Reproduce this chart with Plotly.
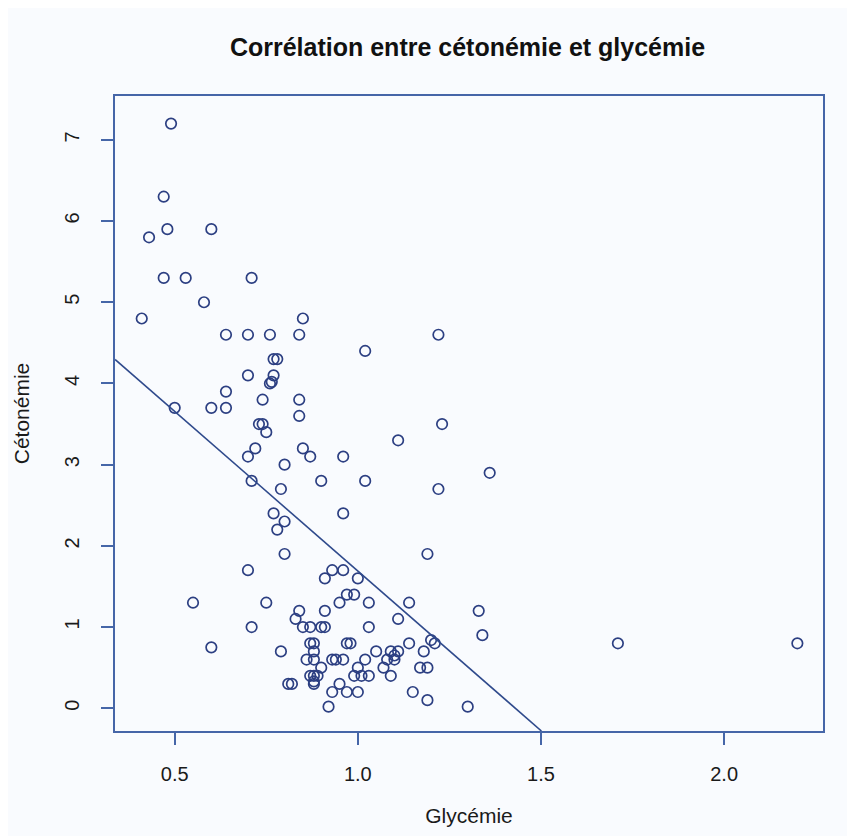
import plotly.graph_objects as go

# Glycémie (x) and Cétonémie (y) values
glycemie = [
    0.49, 0.47, 0.48, 0.60, 0.43, 0.47, 0.53, 0.71, 0.58, 0.41, 0.85,
    0.64, 0.70, 0.76, 0.84, 1.22, 1.02, 0.77, 0.78, 0.70, 0.77, 0.76, 0.765,
    0.64, 0.74, 0.84, 0.50, 0.60, 0.64, 0.84, 0.73, 0.74, 1.23, 0.75, 1.11,
    0.72, 0.85, 0.70, 0.87, 0.96, 0.80, 1.36, 0.71, 0.90, 1.02, 0.79, 1.22,
    0.77, 0.96, 0.80, 0.78, 0.80, 1.19,
    0.70, 0.93, 0.96, 0.91, 1.00, 0.97, 0.99, 0.55, 0.75, 0.95, 1.03, 1.14,
    0.84, 0.91, 1.33, 0.83, 1.11, 0.71, 0.85, 0.87, 0.90, 0.91, 1.03, 1.34,
    1.20, 1.21, 1.14, 0.87, 0.88, 0.97, 0.98, 1.71, 2.20, 0.60, 0.79, 0.88,
    1.05, 1.09, 1.11, 1.18, 0.86, 0.88, 0.93, 0.94, 0.96, 1.02, 1.08, 1.10,
    1.10, 0.90, 1.00, 1.07, 1.17, 1.19, 0.87, 0.88, 0.89, 0.99, 1.01, 1.03,
    1.09, 0.81, 0.82, 0.88, 0.88, 0.95, 0.93, 0.97, 1.00, 1.15, 1.19, 0.92,
    1.30,
]
cetonemie = [
    7.2, 6.3, 5.9, 5.9, 5.8, 5.3, 5.3, 5.3, 5.0, 4.8, 4.8,
    4.6, 4.6, 4.6, 4.6, 4.6, 4.4, 4.3, 4.3, 4.1, 4.1, 4.0, 4.02,
    3.9, 3.8, 3.8, 3.7, 3.7, 3.7, 3.6, 3.5, 3.5, 3.5, 3.4, 3.3,
    3.2, 3.2, 3.1, 3.1, 3.1, 3.0, 2.9, 2.8, 2.8, 2.8, 2.7, 2.7,
    2.4, 2.4, 2.3, 2.2, 1.9, 1.9,
    1.7, 1.7, 1.7, 1.6, 1.6, 1.4, 1.4, 1.3, 1.3, 1.3, 1.3, 1.3,
    1.2, 1.2, 1.2, 1.1, 1.1, 1.0, 1.0, 1.0, 1.0, 1.0, 1.0, 0.9,
    0.84, 0.8, 0.8, 0.8, 0.8, 0.8, 0.8, 0.8, 0.8, 0.75, 0.7, 0.7,
    0.7, 0.7, 0.7, 0.7, 0.6, 0.6, 0.6, 0.6, 0.6, 0.6, 0.6, 0.6,
    0.65, 0.5, 0.5, 0.5, 0.5, 0.5, 0.4, 0.4, 0.4, 0.4, 0.4, 0.4,
    0.4, 0.3, 0.3, 0.3, 0.33, 0.3, 0.2, 0.2, 0.2, 0.2, 0.1, 0.02,
    0.02,
]

# Regression line (cétonémie = intercept + slope * glycémie)
reg_intercept = 5.62
reg_slope = -3.93
x_range = [0.337, 2.27]
y_range = [-0.28, 7.54]
x_ticks = [0.5, 1.0, 1.5, 2.0]
x_ticktext = ["0.5", "1.0", "1.5", "2.0"]
y_ticks = [0, 1, 2, 3, 4, 5, 6, 7]

line_x = [x_range[0], (y_range[0] - reg_intercept) / reg_slope]
line_y = [reg_intercept + reg_slope * v for v in line_x]

navy = "#2c3f82"
border = "#4666a8"
bg = "#f9fbfe"
font_family = "Liberation Sans, Arial, sans-serif"
text_col = "#1a1a1a"

W, H = 847, 828

fig = go.Figure()
fig.add_trace(go.Scatter(
    x=glycemie, y=cetonemie, mode="markers",
    marker=dict(symbol="circle-open", size=10.5, color=navy, line=dict(width=1.7, color=navy)),
    showlegend=False, hoverinfo="x+y",
))
fig.add_trace(go.Scatter(
    x=line_x, y=line_y, mode="lines",
    line=dict(color="#2f4a8c", width=1.6),
    showlegend=False, hoverinfo="skip",
))

fig.update_layout(
    width=W, height=H,
    paper_bgcolor=bg, plot_bgcolor=bg,
    margin=dict(l=104, r=32, t=88, b=103),
    title=dict(text="<b>Corrélation entre cétonémie et glycémie</b>",
               x=(104 + W - 32) / 2 / W, xanchor="center", y=1 - 39 / H, yanchor="middle",
               font=dict(family=font_family, size=25, color="#111111")),
    font=dict(family=font_family, size=20, color=text_col),
)
fig.update_xaxes(
    range=x_range, tickvals=x_ticks, ticktext=x_ticktext,
    showgrid=False, zeroline=False,
    showline=True, mirror=True, linecolor=border, linewidth=2,
    ticks="outside", ticklen=12, tickwidth=1.5, tickcolor=border,
    ticklabelstandoff=12,
    tickfont=dict(size=20, color=text_col),
    title=dict(text="Glycémie", standoff=24, font=dict(size=21, color=text_col)),
)
fig.update_yaxes(
    range=y_range, tickvals=y_ticks,
    showgrid=False, zeroline=False,
    showline=True, mirror=True, linecolor=border, linewidth=2,
    ticks="outside", ticklen=12, tickwidth=1.5, tickcolor=border,
    tickangle=-90, ticklabelstandoff=14,
    tickfont=dict(size=20, color=text_col),
    title=dict(text="Cétonémie", standoff=26, font=dict(size=21, color=text_col)),
)

fig.write_html("out.html")
